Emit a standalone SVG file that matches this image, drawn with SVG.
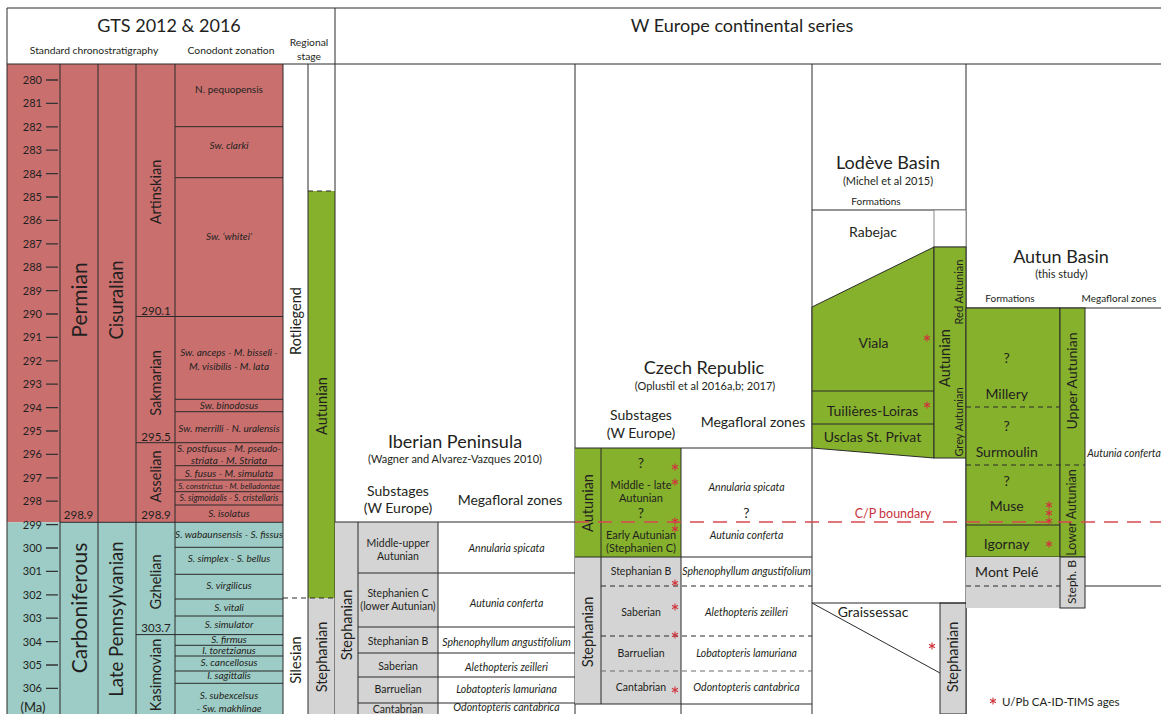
<svg xmlns="http://www.w3.org/2000/svg" width="1161" height="714" viewBox="0 0 1161 714">
<defs>
<style>
text{font-family:Lato,"Open Sans",sans-serif;fill:#231f20}
.ln{stroke:#2b2b2b;stroke-width:1;fill:none}
.lg{stroke:#8a8a8a;stroke-width:1;fill:none}
.ds{stroke:#2b2b2b;stroke-width:1;stroke-dasharray:5 4;fill:none}
.dg{stroke:#6a6a6a;stroke-width:1;stroke-dasharray:5 4;fill:none}
.cp{stroke:#d9474f;stroke-width:1.3;stroke-dasharray:14 9;fill:none}
.perm{fill:#c9706f}
.carb{fill:#9dcbc5}
.grn{fill:#86b12c}
.gry{fill:#d4d4d4}
.tick{stroke:#333;stroke-width:1.3}
.ttl{font-size:18px;text-anchor:middle}
.ref{font-size:11px;text-anchor:middle}
.hd{font-size:10.3px;text-anchor:middle}
.num{font-size:11px;text-anchor:end}
.sn{font-size:11.5px;text-anchor:middle}
.zn{font-size:10px;font-style:italic;text-anchor:middle}
.big{font-size:21px;text-anchor:middle}
.mid{font-size:18.5px;text-anchor:middle}
.stg{font-size:14.5px;text-anchor:middle}
.sub{font-size:14px;text-anchor:middle}
.cell{font-size:10.5px;text-anchor:middle}
.fl{font-size:10.5px;font-style:italic;text-anchor:middle}
.fm{font-size:14px;text-anchor:middle}
.sm{font-size:11px;text-anchor:middle}
</style>
<path id="ast" d="M0,-3.5V3.5M-3,-1.75L3,1.75M-3,1.75L3,-1.75" stroke="#d0343c" stroke-width="1.1" fill="none"/>
</defs>
<rect x="0" y="0" width="1161" height="714" fill="#fff"/>

<g id="gts">
  <rect class="perm" x="7" y="64" width="276" height="458.3"/>
  <rect class="carb" x="7" y="522.3" width="276" height="191.7"/>
  <g class="ln">
    <path d="M60,64V714M98,64V714M136,64V714M175,64V714M283,64V714"/>
    <path d="M60,522.3H283M136,316.5H283M136,442.7H283M136,634.6H283"/>
    <path d="M175,126.7H283M175,177.7H283M175,399.3H283M175,411.7H283M175,465.7H283M175,480H283M175,491.7H283M175,505H283M175,547.3H283M175,574.3H283M175,599H283M175,616H283M175,645.3H283M175,656H283M175,671H283M175,683.3H283"/>
  </g>
  <g class="tick">
    <path d="M46,80H58M46,103.4H58M46,126.8H58M46,150.2H58M46,173.6H58M46,197H58M46,220.4H58M46,243.8H58M46,267.2H58M46,290.6H58M46,314H58M46,337.4H58M46,360.8H58M46,384.2H58M46,407.6H58M46,431H58M46,454.4H58M46,477.8H58M46,501.2H58M46,524.6H58M46,548H58M46,571.4H58M46,594.8H58M46,618.2H58M46,641.6H58M46,665H58M46,688.4H58"/>
  </g>
  <g class="num">
    <text x="42" y="84">280</text><text x="42" y="107.4">281</text><text x="42" y="130.8">282</text>
    <text x="42" y="154.2">283</text><text x="42" y="177.6">284</text><text x="42" y="201">285</text>
    <text x="42" y="224.4">286</text><text x="42" y="247.8">287</text><text x="42" y="271.2">288</text>
    <text x="42" y="294.6">289</text><text x="42" y="318">290</text><text x="42" y="341.4">291</text>
    <text x="42" y="364.8">292</text><text x="42" y="388.2">293</text><text x="42" y="411.6">294</text>
    <text x="42" y="435">295</text><text x="42" y="458.4">296</text><text x="42" y="481.8">297</text>
    <text x="42" y="505.2">298</text><text x="42" y="528.6">299</text><text x="42" y="552">300</text>
    <text x="42" y="575.4">301</text><text x="42" y="598.8">302</text><text x="42" y="622.2">303</text>
    <text x="42" y="645.6">304</text><text x="42" y="669">305</text><text x="42" y="692.4">306</text>
  </g>
  <text x="33" y="712" font-size="13" text-anchor="middle">(Ma)</text>
  <text class="big" transform="translate(80,300) rotate(-90)" dy=".35em">Permian</text>
  <text class="mid" transform="translate(117,300) rotate(-90)" dy=".35em">Cisuralian</text>
  <text class="big" transform="translate(80,608) rotate(-90)" dy=".35em">Carboniferous</text>
  <text class="mid" transform="translate(117,619) rotate(-90)" dy=".35em">Late Pennsylvanian</text>
  <text class="stg" transform="translate(155.5,192) rotate(-90)" dy=".35em">Artinskian</text>
  <text class="stg" transform="translate(155.5,383) rotate(-90)" dy=".35em">Sakmarian</text>
  <text class="stg" transform="translate(155.5,476.5) rotate(-90)" dy=".35em">Asselian</text>
  <text class="stg" transform="translate(155.5,582) rotate(-90)" dy=".35em">Gzhelian</text>
  <text class="stg" transform="translate(155.5,675) rotate(-90)" dy=".35em">Kasimovian</text>
  <text class="sn" x="78.5" y="519">298.9</text>
  <text class="sn" x="156" y="314.5">290.1</text>
  <text class="sn" x="156" y="441">295.5</text>
  <text class="sn" x="156" y="519">298.9</text>
  <text class="sn" x="156" y="632">303.7</text>
  <text x="229" y="93" font-size="10" text-anchor="middle">N. pequopensis</text>
  <text class="zn" x="229" y="149">Sw. clarki</text>
  <text class="zn" x="229" y="240">Sw. ‘whitei’</text>
  <text class="zn" x="229" y="356">Sw. anceps - M. bisseli -</text>
  <text class="zn" x="229" y="370">M. visibilis - M. lata</text>
  <text class="zn" x="229" y="408.5">Sw. binodosus</text>
  <text class="zn" x="229" y="432">Sw. merrilli - N. uralensis</text>
  <text class="zn" x="229" y="452">S. postfusus - M. pseudo-</text>
  <text class="zn" x="229" y="464">striata - M. Striata</text>
  <text class="zn" x="229" y="477">S. fusus - M. simulata</text>
  <text class="zn" x="229" y="488.8" style="font-size:8.1px">S. constrictus - M. belladontae</text>
  <text class="zn" x="229" y="500.5" style="font-size:8.6px">S. sigmoidalis - S. cristellaris</text>
  <text class="zn" x="229" y="517">S. isolatus</text>
  <text class="zn" x="229" y="537.5">S. wabaunsensis - S. fissus</text>
  <text class="zn" x="229" y="562">S. simplex - S. bellus</text>
  <text class="zn" x="229" y="589">S. virgilicus</text>
  <text class="zn" x="229" y="610.5">S. vitali</text>
  <text class="zn" x="229" y="628">S. simulator</text>
  <text class="zn" x="229" y="643">S. firmus</text>
  <text class="zn" x="229" y="654">I. toretzianus</text>
  <text class="zn" x="229" y="666">S. cancellosus</text>
  <text class="zn" x="229" y="679">I. sagittalis</text>
  <text class="zn" x="229" y="699">S. subexcelsus</text>
  <text class="zn" x="229" y="711.5">- Sw. makhlinae</text>
</g>

<g id="regional-stage">
  <rect x="308" y="64" width="27" height="127" fill="#fff"/>
  <rect class="grn" x="308" y="191" width="27" height="407"/>
  <rect class="gry" x="308" y="598" width="27" height="116"/>
  <path class="ln" d="M308,64V714"/>
  <path class="ds" d="M308,191H335M283,598H335"/>
  <text class="stg" transform="translate(296,321) rotate(-90)" dy=".35em">Rotliegend</text>
  <text class="stg" transform="translate(296,660) rotate(-90)" dy=".35em">Silesian</text>
  <text class="stg" transform="translate(321.5,406) rotate(-90)" dy=".35em">Autunian</text>
  <text class="stg" transform="translate(321.5,657) rotate(-90)" dy=".35em">Stephanian</text>
</g>

<g id="header">
  <path class="ln" d="M7,8H1161M7,64H1161M7,8V714M335,8V714M575,64V714M812,64V714M966,64V714"/>
  <text class="ttl" x="169" y="32">GTS 2012 &amp; 2016</text>
  <text class="hd" x="94" y="53.5">Standard chronostratigraphy</text>
  <text class="hd" x="231" y="53.5">Conodont zonation</text>
  <text class="hd" x="309" y="46">Regional</text>
  <text class="hd" x="309" y="59.5">stage</text>
  <text class="ttl" x="742" y="32">W Europe continental series</text>
</g>

<g id="iberian">
  <rect class="gry" x="335" y="522" width="103" height="192"/>
  <path class="ln" d="M335,522H575M358,522V714M438,522V714M358,573H575M358,627H575M358,653H575M358,677H575M358,703H575"/>
  <text class="ttl" x="455" y="448">Iberian Peninsula</text>
  <text class="ref" x="455" y="463">(Wagner and Alvarez-Vazques 2010)</text>
  <text class="sub" x="398" y="495.5">Substages</text>
  <text class="sub" x="398" y="513">(W Europe)</text>
  <text class="sub" x="510" y="505">Megafloral zones</text>
  <text class="stg" transform="translate(346.5,625) rotate(-90)" dy=".35em">Stephanian</text>
  <text class="cell" x="398" y="546.5">Middle-upper</text>
  <text class="cell" x="398" y="560">Autunian</text>
  <text class="fl" x="506.5" y="551.5">Annularia spicata</text>
  <text class="cell" x="398" y="597">Stephanien C</text>
  <text class="cell" x="398" y="609.5">(lower Autunian)</text>
  <text class="fl" x="506.5" y="606.5">Autunia conferta</text>
  <text class="cell" x="398" y="644.5">Stephanian B</text>
  <text class="fl" x="506.5" y="646">Sphenophyllum angustifolium</text>
  <text class="cell" x="398" y="669.5">Saberian</text>
  <text class="fl" x="506.5" y="671">Alethopteris zeilleri</text>
  <text class="cell" x="398" y="692.5">Barruelian</text>
  <text class="fl" x="506.5" y="692.5">Lobatopteris lamuriana</text>
  <text class="cell" x="398" y="713">Cantabrian</text>
  <text class="fl" x="506.5" y="710.5">Odontopteris cantabrica</text>
</g>

<g id="czech">
  <rect class="grn" x="575" y="448" width="106" height="109"/>
  <rect class="gry" x="575" y="557" width="106" height="147"/>
  <path class="ln" d="M575,448H812M601,448V704M681,448V714M575,557H812M575,704H812"/>
  <path class="ds" d="M601,586H812M601,636H812"/>
  <path class="dg" d="M601,671H812"/>
  <text class="ttl" x="704" y="374">Czech Republic</text>
  <text class="ref" x="705" y="389.5">(Oplustil et al 2016a,b; 2017)</text>
  <text class="sub" x="641" y="420">Substages</text>
  <text class="sub" x="641" y="437.5">(W Europe)</text>
  <text class="sub" x="753" y="426.5">Megafloral zones</text>
  <text class="stg" transform="translate(588,503) rotate(-90)" dy=".35em">Autunian</text>
  <text class="stg" transform="translate(588,632) rotate(-90)" dy=".35em">Stephanian</text>
  <text class="fm" x="641" y="468">?</text>
  <text class="sm" x="641" y="489">Middle - late</text>
  <text class="sm" x="641" y="501.5">Autunian</text>
  <text class="fm" x="641" y="518">?</text>
  <text class="sm" x="641" y="539">Early Autunian</text>
  <text class="sm" x="641" y="552">(Stephanien C)</text>
  <text class="fl" x="746.5" y="491">Annularia spicata</text>
  <text class="fm" x="746.5" y="518">?</text>
  <text class="fl" x="746.5" y="539">Autunia conferta</text>
  <text class="cell" x="641" y="575">Stephanian B</text>
  <text class="fl" x="746.5" y="575">Sphenophyllum angustifolium</text>
  <text class="cell" x="641" y="616">Saberian</text>
  <text class="fl" x="746.5" y="616">Alethopteris zeilleri</text>
  <text class="cell" x="641" y="657">Barruelian</text>
  <text class="fl" x="746.5" y="657">Lobatopteris lamuriana</text>
  <text class="cell" x="641" y="691">Cantabrian</text>
  <text class="fl" x="746.5" y="691">Odontopteris cantabrica</text>
  <use href="#ast" x="675" y="467"/><use href="#ast" x="675" y="482"/>
  <use href="#ast" x="675" y="521"/><use href="#ast" x="675" y="529"/>
  <use href="#ast" x="675" y="583"/><use href="#ast" x="675" y="607"/>
  <use href="#ast" x="675" y="635"/><use href="#ast" x="675" y="690"/>
</g>

<g id="lodeve">
  <path class="ln" d="M812,210H966"/>
  <rect x="934" y="210" width="32" height="37" fill="#fff" stroke="#8a8a8a"/>
  <polygon class="grn" points="812,307 934,247 934,458 812,448" stroke="#2b2b2b"/>
  <rect class="grn" x="934" y="247" width="32" height="211" stroke="#2b2b2b"/>
  <path class="ln" d="M812,391H934M812,424H934"/>
  <text class="ttl" x="888" y="169">Lodève Basin</text>
  <text class="ref" x="888" y="184.5">(Michel et al 2015)</text>
  <text x="876" y="205" font-size="10" text-anchor="middle">Formations</text>
  <text class="fm" x="873" y="236.5">Rabejac</text>
  <text class="fm" x="873.5" y="347.5">Viala</text>
  <text class="fm" x="872.5" y="415.5">Tuilières-Loiras</text>
  <text class="fm" x="872.5" y="441.5">Usclas St. Privat</text>
  <text class="stg" transform="translate(945,358) rotate(-90)" dy=".35em">Autunian</text>
  <text class="sm" transform="translate(959.3,292) rotate(-90)" dy=".35em">Red Autunian</text>
  <text class="sm" transform="translate(959.3,422) rotate(-90)" dy=".35em">Grey Autunian</text>
  <use href="#ast" x="927" y="338"/><use href="#ast" x="927" y="405"/>
</g>

<g id="graissessac">
  <rect class="gry" x="940" y="603" width="26" height="111" stroke="#2b2b2b"/>
  <path class="ln" d="M812,603H966M812,603L940,673"/>
  <text class="fm" x="873" y="616.5">Graissessac</text>
  <text class="stg" transform="translate(953,657) rotate(-90)" dy=".35em">Stephanian</text>
  <use href="#ast" x="932" y="646"/>
</g>

<g id="autun">
  <path class="ln" d="M966,308H1161M1085,586H1161"/>
  <rect class="grn" x="966" y="308" width="94" height="249" stroke="#2b2b2b"/>
  <rect class="grn" x="1060" y="308" width="25" height="249" stroke="#2b2b2b"/>
  <rect class="gry" x="966" y="557" width="94" height="51"/>
  <rect class="gry" x="1060" y="557" width="25" height="51" stroke="#2b2b2b"/>
  <path class="ds" d="M966,407H1060M966,465H1085M966,586H1060"/>
  <path class="ln" d="M966,525H1060"/>
  <text class="ttl" x="1061" y="263">Autun Basin</text>
  <text class="ref" x="1061.5" y="278">(this study)</text>
  <text x="1010" y="302" font-size="10" text-anchor="middle">Formations</text>
  <text x="1119" y="302" font-size="10" text-anchor="middle">Megafloral zones</text>
  <text class="fm" x="1006.7" y="363">?</text>
  <text class="fm" x="1006.7" y="399">Millery</text>
  <text class="fm" x="1006.7" y="430.5">?</text>
  <text class="fm" x="1006.7" y="456.5">Surmoulin</text>
  <text class="fm" x="1006.7" y="485.5">?</text>
  <text class="fm" x="1006.7" y="510.5">Muse</text>
  <text class="fm" x="1006.7" y="549">Igornay</text>
  <text class="fm" x="1006.7" y="577">Mont Pelé</text>
  <text class="sub" transform="translate(1072,381) rotate(-90)" dy=".35em">Upper Autunian</text>
  <text class="sub" style="font-size:12.5px" transform="translate(1072,512.5) rotate(-90)" dy=".35em">Lower Autunian</text>
  <text x="0" y="0" font-size="12" text-anchor="middle" transform="translate(1072,582) rotate(-90)" dy=".35em">Steph. B</text>
  <text class="fl" x="1124" y="457">Autunia conferta</text>
  <use href="#ast" x="1049" y="505"/><use href="#ast" x="1049" y="513"/>
  <use href="#ast" x="1049" y="521"/><use href="#ast" x="1049" y="544"/>
</g>

<g id="connectors">
  <path class="cp" d="M575,522H1161"/>
  <text x="893" y="518" font-size="12.5" text-anchor="middle" style="fill:#c8323c">C/P boundary</text>
</g>

<g id="legend">
  <use href="#ast" x="993" y="701"/>
  <text x="1002" y="706" font-size="11.5">U/Pb CA-ID-TIMS ages</text>
</g>
</svg>
